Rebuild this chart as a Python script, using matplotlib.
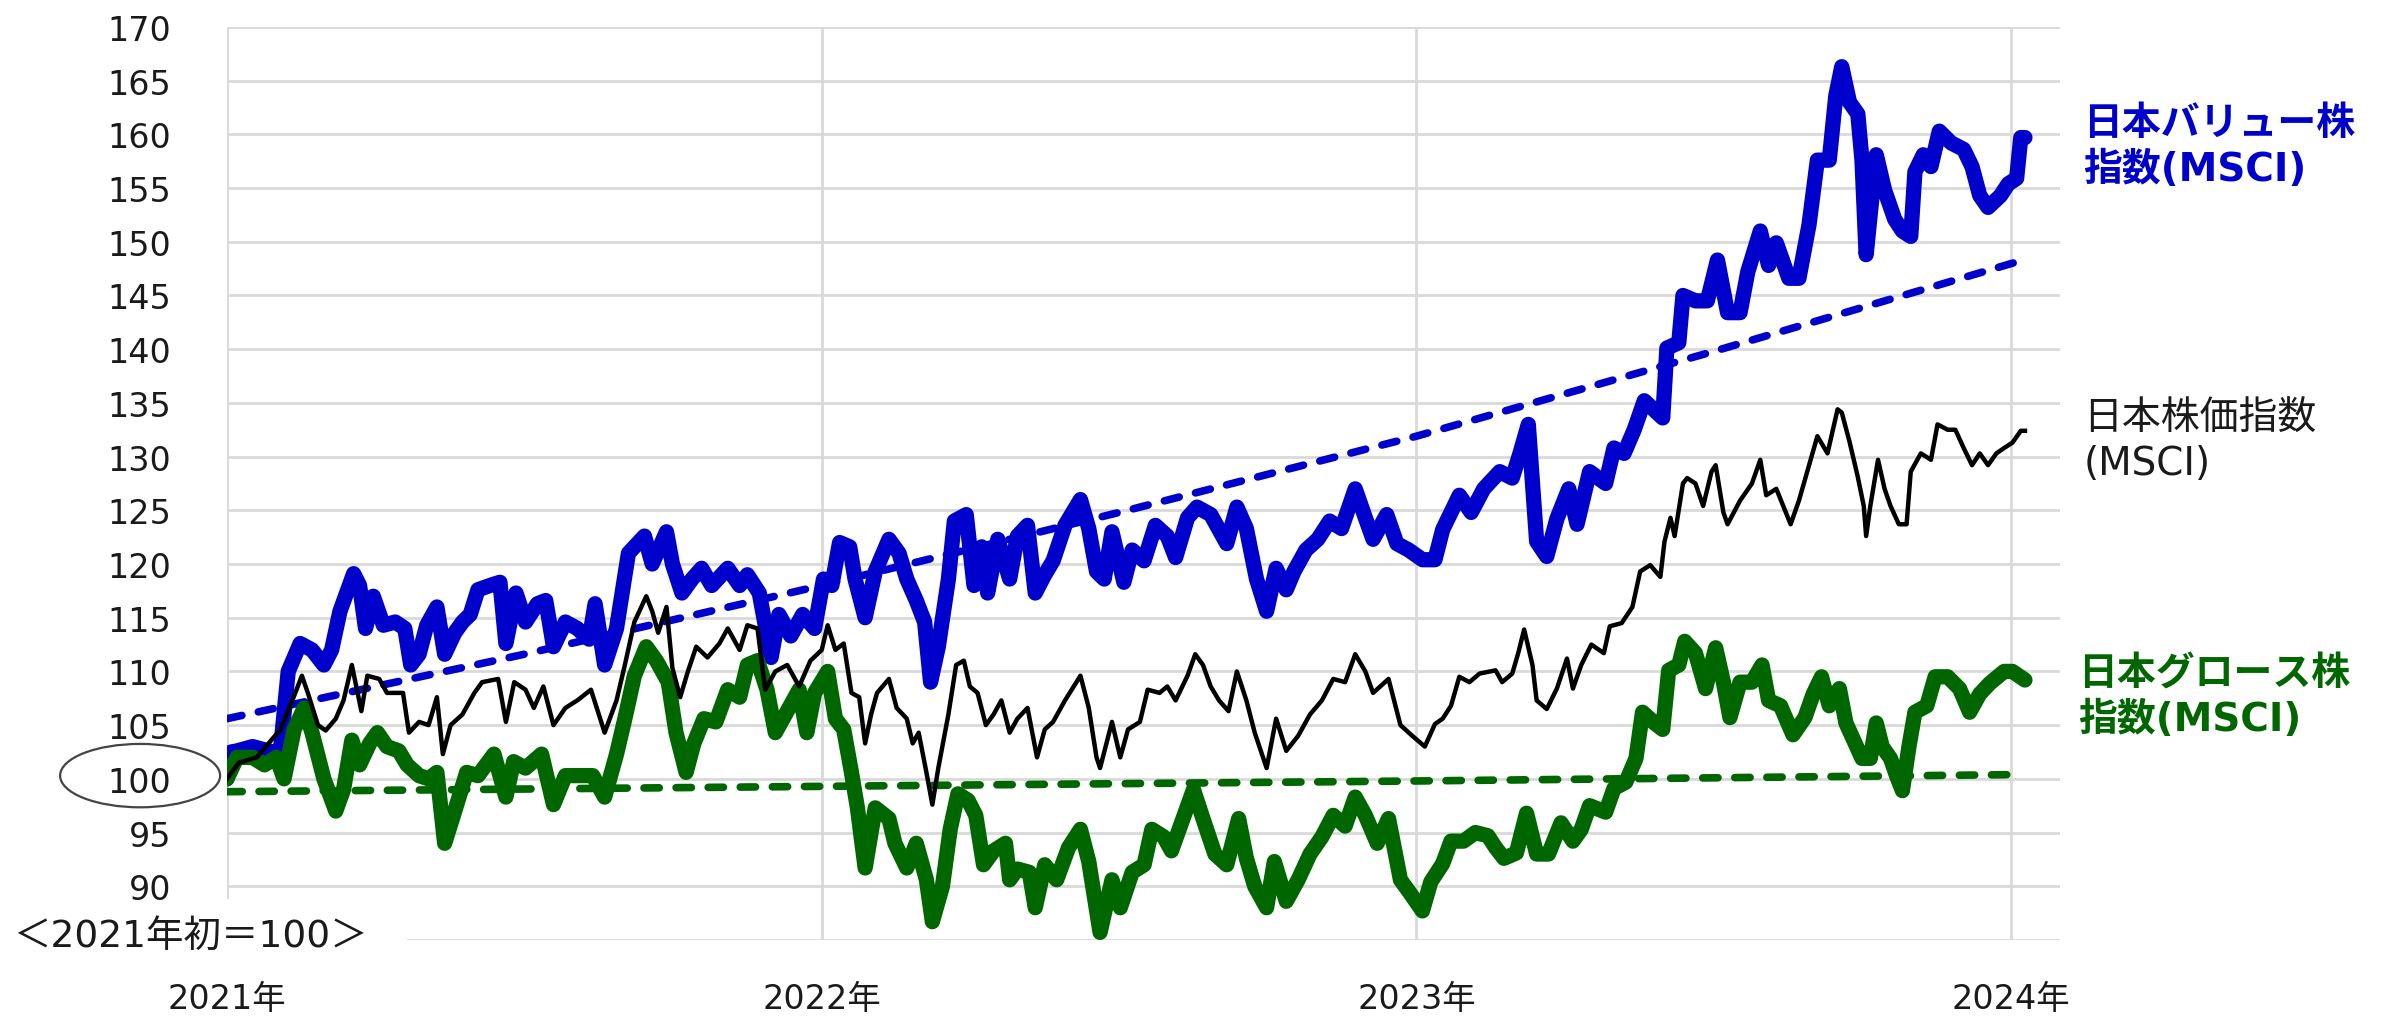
import matplotlib.pyplot as plt
from matplotlib.patches import Ellipse, Rectangle

plt.rcParams['font.family'] = ['DejaVu Sans', 'Noto Sans CJK JP']

# 横軸は2021年初からの経過年数、縦軸は2021年初=100の指数
value_t = [0.000, 0.007, 0.017, 0.043, 0.077, 0.090, 0.103, 0.123, 0.143, 0.163, 0.176, 0.190,
           0.213, 0.223, 0.233, 0.246, 0.263, 0.283, 0.299, 0.309, 0.323, 0.336, 0.353, 0.366,
           0.383, 0.396, 0.409, 0.422, 0.442, 0.459, 0.469, 0.486, 0.502, 0.522, 0.536, 0.549,
           0.569, 0.589, 0.609, 0.619, 0.635, 0.655, 0.675, 0.702, 0.715, 0.739, 0.749, 0.765,
           0.782, 0.798, 0.815, 0.842, 0.862, 0.875, 0.895, 0.915, 0.928, 0.948, 0.968, 0.988,
           1.003, 1.017, 1.030, 1.047, 1.056, 1.073, 1.090, 1.113, 1.130, 1.143, 1.159, 1.173,
           1.183, 1.196, 1.213, 1.223, 1.243, 1.256, 1.269, 1.279, 1.296, 1.316, 1.329, 1.346,
           1.359, 1.375, 1.389, 1.409, 1.435, 1.449, 1.462, 1.475, 1.488, 1.508, 1.522, 1.542,
           1.561, 1.581, 1.595, 1.615, 1.631, 1.654, 1.681, 1.698, 1.714, 1.731, 1.748, 1.764,
           1.781, 1.794, 1.814, 1.834, 1.854, 1.874, 1.897, 1.914, 1.927, 1.950, 1.967, 1.987,
           2.010, 2.031, 2.044, 2.058, 2.072, 2.092, 2.113, 2.140, 2.161, 2.174, 2.188, 2.202,
           2.219, 2.236, 2.256, 2.270, 2.291, 2.318, 2.332, 2.349, 2.366, 2.383, 2.414, 2.421,
           2.441, 2.448, 2.469, 2.489, 2.506, 2.523, 2.544, 2.557, 2.578, 2.592, 2.605, 2.626,
           2.643, 2.660, 2.674, 2.694, 2.705, 2.715, 2.728, 2.742, 2.749, 2.756, 2.773, 2.787,
           2.804, 2.817, 2.831, 2.838, 2.852, 2.865, 2.879, 2.899, 2.920, 2.934, 2.947, 2.961,
           2.982, 2.995, 3.009, 3.016, 3.023]
value_v = [100.0, 102.5, 102.6, 103.0, 102.5, 102.7, 110.0, 112.6, 112.0, 110.6, 112.0, 115.6,
           119.1, 118.0, 114.0, 117.0, 114.3, 114.6, 114.0, 110.6, 111.6, 114.3, 116.0, 111.6,
           113.6, 114.6, 115.3, 117.6, 118.0, 118.3, 112.6, 117.3, 114.6, 116.3, 116.6, 112.3,
           114.6, 114.0, 113.0, 116.3, 110.6, 114.0, 121.0, 122.6, 120.0, 123.0, 120.0, 117.3,
           118.6, 119.6, 118.0, 119.6, 118.0, 119.0, 117.3, 111.3, 115.3, 113.3, 115.3, 114.0,
           118.6, 118.0, 122.0, 121.6, 118.6, 115.0, 119.3, 122.3, 121.0, 118.6, 116.6, 114.6,
           109.0, 112.3, 118.6, 124.0, 124.6, 118.0, 121.6, 117.3, 122.3, 118.6, 122.6, 123.6,
           117.3, 119.0, 120.3, 123.6, 126.0, 123.3, 119.3, 118.6, 123.0, 118.3, 121.3, 120.3,
           123.6, 122.6, 120.6, 124.3, 125.3, 124.6, 121.9, 125.3, 123.3, 118.6, 115.6, 119.6,
           117.6, 119.3, 121.3, 122.3, 124.0, 123.3, 127.0, 124.3, 122.3, 124.6, 121.9, 121.3,
           120.4, 120.4, 123.2, 124.8, 126.4, 124.8, 127.0, 128.6, 128.0, 130.3, 133.0, 122.1,
           120.7, 124.2, 127.0, 123.7, 128.6, 127.5, 130.8, 130.3, 132.5, 135.2, 133.6, 140.1,
           140.6, 145.0, 144.5, 144.5, 148.3, 143.4, 143.4, 147.2, 151.0, 147.8, 149.9, 146.6,
           146.6, 151.6, 157.6, 157.6, 163.6, 166.3, 163.0, 161.9, 157.6, 148.8, 158.1, 154.8,
           152.1, 151.0, 150.5, 156.5, 158.1, 157.0, 160.3, 159.2, 158.6, 157.0, 154.3, 153.2,
           154.3, 155.4, 155.9, 159.7, 159.7]

market_t = [0.000, 0.020, 0.050, 0.090, 0.110, 0.126, 0.136, 0.153, 0.166, 0.183, 0.196, 0.210,
            0.226, 0.236, 0.256, 0.269, 0.296, 0.306, 0.323, 0.339, 0.353, 0.363, 0.376, 0.396,
            0.416, 0.429, 0.456, 0.469, 0.483, 0.502, 0.516, 0.532, 0.549, 0.569, 0.589, 0.612,
            0.635, 0.655, 0.669, 0.685, 0.705, 0.715, 0.725, 0.739, 0.749, 0.762, 0.775, 0.789,
            0.808, 0.828, 0.842, 0.862, 0.875, 0.892, 0.905, 0.922, 0.942, 0.962, 0.981,
            1.000, 1.010, 1.023, 1.037, 1.050, 1.063, 1.073, 1.083, 1.093, 1.113, 1.126, 1.143,
            1.153, 1.163, 1.176, 1.186, 1.196, 1.213, 1.226, 1.239, 1.249, 1.262, 1.276, 1.289,
            1.302, 1.316, 1.329, 1.346, 1.362, 1.375, 1.389, 1.409, 1.435, 1.449, 1.462, 1.468,
            1.488, 1.502, 1.515, 1.535, 1.548, 1.568, 1.581, 1.595, 1.615, 1.628, 1.641, 1.654,
            1.668, 1.684, 1.698, 1.714, 1.728, 1.748, 1.764, 1.781, 1.801, 1.821, 1.841, 1.860,
            1.880, 1.897, 1.914, 1.927, 1.953, 1.973, 1.993,
            2.014, 2.031, 2.044, 2.058, 2.072, 2.089, 2.106, 2.133, 2.144, 2.161, 2.171, 2.181,
            2.195, 2.202, 2.219, 2.236, 2.253, 2.263, 2.277, 2.294, 2.315, 2.325, 2.345, 2.363,
            2.376, 2.393, 2.410, 2.417, 2.427, 2.434, 2.448, 2.455, 2.469, 2.482, 2.496, 2.503,
            2.516, 2.523, 2.544, 2.564, 2.578, 2.588, 2.605, 2.629, 2.643, 2.660, 2.674, 2.691,
            2.708, 2.715, 2.728, 2.742, 2.752, 2.756, 2.763, 2.776, 2.787, 2.797, 2.811, 2.824,
            2.831, 2.848, 2.865, 2.876, 2.893, 2.906, 2.920, 2.934, 2.947, 2.961, 2.975, 2.988,
            3.002, 3.016, 3.023]
market_v = [100.0, 101.5, 102.0, 104.6, 107.3, 109.6, 108.0, 105.0, 104.5, 105.6, 107.3, 110.6,
            106.3, 109.6, 109.3, 108.0, 108.0, 104.3, 105.3, 105.0, 107.6, 102.3, 105.0, 106.0,
            108.0, 109.0, 109.3, 105.3, 109.0, 108.3, 106.6, 108.6, 105.0, 106.6, 107.3, 108.3,
            104.3, 107.3, 110.6, 114.6, 117.0, 115.6, 113.6, 116.0, 110.3, 107.6, 110.0, 112.3,
            111.3, 112.6, 114.0, 112.0, 114.3, 114.0, 108.3, 110.0, 110.6, 108.6, 111.0,
            112.0, 114.3, 112.0, 112.6, 108.0, 107.6, 103.3, 106.0, 108.0, 109.3, 106.6, 105.6,
            103.3, 104.3, 100.6, 97.6, 101.0, 106.0, 110.6, 111.0, 108.6, 108.0, 105.0, 106.0,
            107.3, 104.3, 105.6, 106.6, 102.0, 104.6, 105.3, 107.3, 109.6, 106.6, 102.0, 101.0,
            105.3, 102.0, 104.6, 105.3, 108.3, 108.0, 108.6, 107.3, 109.6, 111.6, 110.6, 108.6,
            107.3, 106.3, 110.0, 107.3, 104.3, 101.0, 105.6, 102.6, 104.0, 106.0, 107.3, 109.3,
            109.0, 111.6, 110.0, 108.0, 109.3, 105.0, 104.0,
            103.0, 105.1, 105.6, 106.8, 109.5, 109.0, 109.8, 110.1, 109.0, 109.8, 111.7, 113.9,
            110.6, 107.3, 106.5, 108.4, 111.2, 108.4, 110.6, 112.5, 111.7, 114.2, 114.5, 116.0,
            119.3, 119.9, 118.8, 122.1, 124.3, 122.6, 127.5, 128.0, 127.5, 125.4, 128.6, 129.2,
            124.8, 123.7, 125.9, 127.5, 129.7, 126.4, 127.0, 123.7, 125.9, 129.2, 131.9, 130.3,
            134.4, 134.1, 131.4, 128.1, 125.4, 122.6, 125.4, 129.7, 127.0, 125.4, 123.7, 123.7,
            128.6, 130.3, 129.7, 133.0, 132.5, 132.5, 130.8, 129.2, 130.3, 129.2, 130.3, 130.8,
            131.3, 132.4, 132.4]

growth_t = [0.000, 0.017, 0.043, 0.063, 0.083, 0.096, 0.113, 0.130, 0.143, 0.163, 0.183, 0.196,
            0.210, 0.223, 0.240, 0.253, 0.269, 0.289, 0.303, 0.323, 0.339, 0.353, 0.366, 0.383,
            0.403, 0.422, 0.449, 0.469, 0.482, 0.502, 0.529, 0.549, 0.569, 0.589, 0.615, 0.635,
            0.655, 0.669, 0.685, 0.705, 0.722, 0.742, 0.755, 0.772, 0.785, 0.802, 0.822, 0.842,
            0.862, 0.875, 0.892, 0.908, 0.922, 0.942, 0.962, 0.975, 0.988,
            1.010, 1.023, 1.037, 1.050, 1.060, 1.073, 1.090, 1.113, 1.123, 1.143, 1.159, 1.176,
            1.186, 1.203, 1.216, 1.229, 1.246, 1.259, 1.272, 1.289, 1.309, 1.316, 1.329, 1.349,
            1.359, 1.375, 1.395, 1.415, 1.435, 1.449, 1.468, 1.488, 1.502, 1.522, 1.542, 1.555,
            1.575, 1.588, 1.601, 1.625, 1.641, 1.661, 1.681, 1.701, 1.714, 1.728, 1.748, 1.761,
            1.781, 1.801, 1.821, 1.841, 1.860, 1.880, 1.897, 1.914, 1.934, 1.953, 1.973, 1.990,
            2.010, 2.024, 2.044, 2.058, 2.079, 2.099, 2.120, 2.133, 2.147, 2.168, 2.185, 2.202,
            2.222, 2.243, 2.263, 2.277, 2.291, 2.318, 2.332, 2.352, 2.369, 2.380, 2.400, 2.414,
            2.424, 2.441, 2.451, 2.469, 2.486, 2.503, 2.516, 2.527, 2.544, 2.564, 2.581, 2.592,
            2.612, 2.633, 2.653, 2.667, 2.681, 2.694, 2.711, 2.722, 2.736, 2.749, 2.763, 2.773,
            2.783, 2.797, 2.807, 2.817, 2.828, 2.838, 2.858, 2.872, 2.893, 2.913, 2.930, 2.947,
            2.964, 2.988, 3.002, 3.023]
growth_v = [100.0, 102.0, 102.0, 101.3, 102.0, 100.0, 104.6, 106.6, 104.3, 100.0, 97.0, 99.0,
            103.6, 101.3, 103.3, 104.3, 103.0, 102.6, 101.3, 100.3, 100.0, 100.6, 94.0, 97.0,
            100.6, 100.3, 102.3, 98.3, 101.6, 101.0, 102.3, 97.6, 100.3, 100.3, 100.3, 98.3,
            102.3, 105.6, 109.6, 112.3, 111.0, 109.0, 104.3, 100.6, 103.3, 105.6, 105.3, 108.3,
            107.6, 110.6, 111.0, 108.3, 104.3, 106.3, 108.3, 104.3, 108.0,
            110.0, 105.6, 104.6, 100.6, 97.3, 91.7, 97.3, 96.3, 94.0, 91.7, 94.0, 90.6,
            86.7, 90.0, 95.3, 98.6, 98.0, 96.6, 92.0, 93.3, 94.0, 90.6, 91.6, 91.3,
            88.0, 92.0, 90.6, 93.6, 95.3, 92.3, 85.7, 90.6, 88.0, 91.3, 92.0, 95.3,
            94.6, 93.3, 95.3, 99.0, 96.3, 93.0, 92.0, 96.3, 92.6, 90.0, 88.0, 92.3,
            88.6, 90.6, 93.0, 94.6, 96.6, 95.6, 98.3, 96.6, 94.0, 96.3, 90.6, 89.3,
            87.7, 90.4, 92.1, 94.2, 94.2, 95.0, 94.7, 93.6, 92.6, 93.1, 96.8, 93.0,
            93.0, 95.9, 94.2, 95.3, 97.5, 96.9, 99.1, 99.7, 101.9, 106.2, 105.2, 104.6,
            110.1, 110.6, 112.8, 111.7, 108.4, 112.2, 109.0, 105.7, 109.0, 109.0, 110.6, 107.3,
            106.8, 104.1, 105.7, 107.9, 109.5, 106.8, 108.4, 105.2, 103.5, 101.9, 101.9, 105.2,
            103.0, 101.9, 100.3, 98.9, 103.0, 106.2, 106.8, 109.5, 109.5, 108.4, 106.2, 107.9,
            108.9, 110.0, 110.0, 109.2]

# 点線（トレンド）
value_trend_t = [0.0, 0.5, 1.0, 1.5, 2.0, 2.5, 3.02]
value_trend_v = [105.6, 111.6, 118.0, 124.8, 131.9, 139.8, 148.3]
growth_trend_t = [0.0, 1.0, 2.0, 3.02]
growth_trend_v = [98.8, 99.3, 99.8, 100.4]

year_pos = [0, 1, 2, 3]
year_labels = ['2021年', '2022年', '2023年', '2024年']
y_ticks = list(range(85, 171, 5))

BLUE = '#0000cc'
GREEN = '#006600'

fig = plt.figure(figsize=(23.94, 10.2), dpi=100)
ax = fig.add_axes([0.0948, 0.0775, 0.7657, 0.8951])

dash = (0, (2.0, 2.2))
ax.plot(value_trend_t, value_trend_v, color=BLUE, lw=5.5, ls=dash, dash_capstyle='round')
ax.plot(growth_trend_t, growth_trend_v, color=GREEN, lw=5.5, ls=dash, dash_capstyle='round')
ax.plot(value_t, value_v, color=BLUE, lw=11, solid_joinstyle='round', solid_capstyle='round')
ax.plot(growth_t, growth_v, color=GREEN, lw=11, solid_joinstyle='round', solid_capstyle='round')
ax.plot(market_t, market_v, color='black', lw=3.2, solid_joinstyle='round')

ax.set_xlim(0, 3.082)
ax.set_ylim(85, 170)
ax.set_yticks(y_ticks)
ax.set_yticklabels(['' if v == 85 else str(v) for v in y_ticks])
ax.set_xticks(year_pos)
ax.set_xticklabels(year_labels)
ax.tick_params(axis='y', length=0, labelsize=24, pad=40, labelcolor='#1a1a1a')
ax.tick_params(axis='x', length=0, labelsize=24, pad=30, labelcolor='#1a1a1a')
ax.grid(color='#d9d9d9', lw=2)
ax.set_axisbelow(True)
for s in ax.spines.values():
    s.set_visible(False)

# 右側の系列名
ax.text(3.121, 158.9, '日本バリュー株\n指数(MSCI)', color=BLUE, fontsize=28, fontweight='bold',
        ha='left', va='center', linespacing=1.25, clip_on=False)
ax.text(3.121, 131.5, '日本株価指数\n(MSCI)', color='#1a1a1a', fontsize=28,
        ha='left', va='center', linespacing=1.25, clip_on=False)
ax.text(3.112, 107.7, '日本グロース株\n指数(MSCI)', color=GREEN, fontsize=28, fontweight='bold',
        ha='left', va='center', linespacing=1.25, clip_on=False)

# 100を囲む楕円
ax.add_patch(Ellipse((-0.146, 100.3), 0.269, 5.9, fill=False, edgecolor='#444444', lw=1.6,
                     clip_on=False))

# 左下の注記（下端の罫線を隠す）
fig.add_artist(Rectangle((190 / 2394, 1 - 975 / 1020), 217 / 2394, 75 / 1020,
                         transform=fig.transFigure, facecolor='white', edgecolor='none', zorder=5))
fig.text(13 / 2394, 1 - 937 / 1020, '＜2021年初＝100＞', fontsize=27,
         family=['DejaVu Sans', 'Noto Sans CJK JP'],
         color='#1a1a1a', ha='left', va='center', zorder=6)

fig.savefig('out.png', dpi=100)
